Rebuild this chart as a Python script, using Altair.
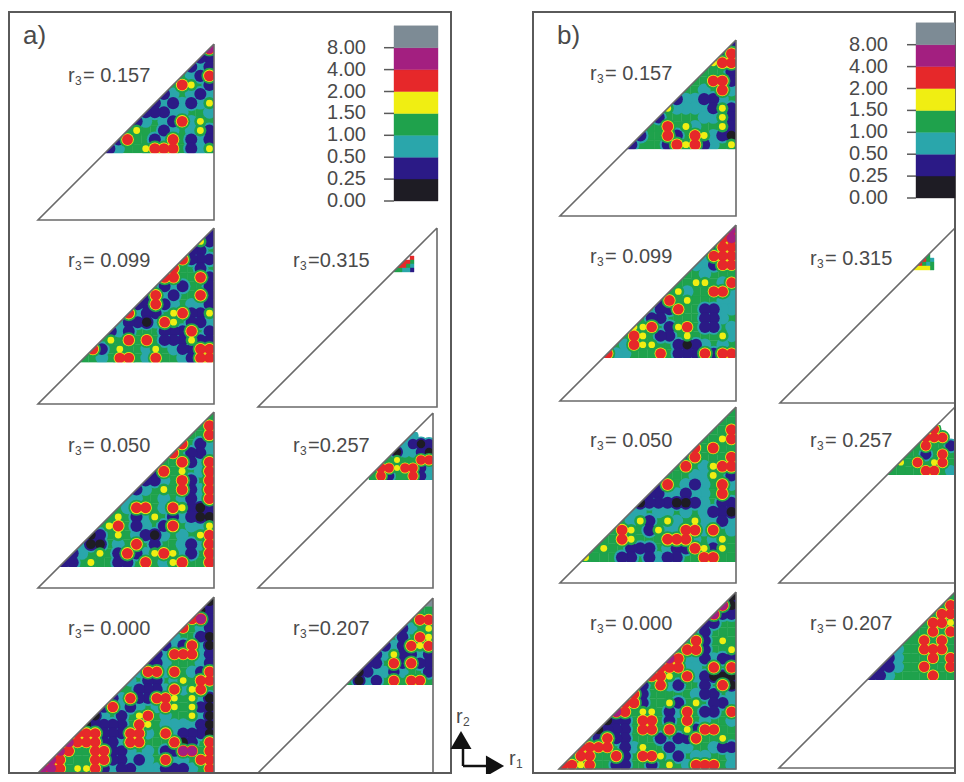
import altair as alt
import math

COLORS = ["#1e1c24", "#2b1a86", "#2aa6ab", "#1fa24c", "#f0ee12", "#e6282a", "#a31f80", "#7d8b95"]
TICKS = ["0.00", "0.25", "0.50", "1.00", "1.50", "2.00", "4.00", "8.00"]

A157 = ["6", "11", "121", "3215", "35431", "123212", "1212124", "11122332", "123215243", "3433123241",
        "15331253121", "123345553124"]
A099 = ["1", "41", "113", "5111", "53313", "553351", "3121331", "15213351", "115123221", "5211345114",
        "21102543112", "121333111531", "3435353111411", "51343324321155", "332355325332155"]
A050 = ["3", "35", "335", "5312", "53112", "335125", "1534325", "11235135", "123435125", "2233232125",
        "32553254101", "343124312100", "3453123153224", "01343210232345", "200323531332125",
        "1234315124542135", "11343311353245335"]
A000 = ["0", "01", "561", "5321", "23310", "121520", "1255521", "11233321", "255253215", "2311324355",
        "33111252453", "125115543420", "1521232543410", "02313453233420", "011113543222210",
        "5551115523521110", "65551125533350135", "653355112323116635", "6533355112123522355",
        "66534451211222111235"]
A315 = ["5", "553", "5532", "33221"]
A257 = ["2  ", "2101", "02210", "343355", "5545512", "35133512"]
A207 = ["7", "33", "355", "1234", "31354", "121545", "1241121", "11351511", "012212331", "3021353553"]

B157 = ["1", "15", "455", "3331", "33551", "332352", "1221123", "42222141", "133332241", "3353423341",
        "13351354210", "133315451234"]
B099 = ["6", "56", "155", "2555", "22155", "332333", "3344325", "34233552", "153433322", "3115331122",
        "31133331123", "445314531132", "3543113433342", "32544331012323", "522333531115155"]
B050 = ["3", "33", "335", "3345", "53533", "153335", "3532455", "33322431", "153212352", "1122122353",
        "01110012311", "223223232110", "3241342342212", "35431422552532", "335433355523243",
        "3433111321154143", "43331131211335533"]
B000 = ["0", "60", "611", "1133", "31333", "251343", "3551334", "65221211", "555223535", "5543521000",
        "13521331350", "513333321132", "5513341343112", "65344312531135", "011355313532332",
        "0111355353415533", "31511333131153343", "555531243312233211", "3553351355421322332",
        "55453311331343255532"]
B315 = ["3 ", "532", "5323", "44443"]
B257 = ["55  ", "3555 ", "335331", "3331353", "34353453", "333335532"]
B207 = ["3", "35", "355", "3554", "33535", "335353", "2335553", "12333535", "112335335", "1123333533"]

# panel: grid, cell right edge, cell top, cell size, apex x, apex y, side, label, label x, label y
PANELS = [
    (A157, 214, 44, 9.1, 214, 44, 176, "= 0.157", 68, 76),
    (A099, 214, 228, 8.97, 214, 228, 176, "= 0.099", 68, 261),
    (A050, 214, 412, 9.12, 214, 412, 176, "= 0.050", 68, 446),
    (A000, 214, 597, 8.8, 214, 597, 176, "= 0.000", 68, 629),
    (A315, 414, 256, 4, 437, 228, 179, "=0.315", 293, 261),
    (A257, 433, 432, 8, 433, 413, 175, "=0.257", 293, 446),
    (A207, 433, 598, 8.7, 433, 598, 175, "=0.207", 293, 629),
    (B157, 736, 40, 9.1, 736, 40, 176, "= 0.157", 590, 74),
    (B099, 736, 225, 8.87, 736, 225, 176, "= 0.099", 590, 257),
    (B050, 736, 407, 9.12, 736, 407, 176, "= 0.050", 590, 441),
    (B000, 736, 592, 8.87, 736, 592, 177, "= 0.000", 590, 624),
    (B315, 934, 254, 4, 955, 228, 175, "= 0.315", 810, 259),
    (B257, 955, 425, 8.33, 955, 407, 176, "= 0.257", 810, 441),
    (B207, 955, 592, 8.8, 955, 592, 176, "= 0.207", 810, 624),
]
FRAMES = [(9, 12, 451, 773), (533, 12, 955, 773)]
LEGENDS = [(394, 438, 201, 21.9, 384, 366), (916, 955, 198, 21.9, 907, 888)]

# How each cell is painted: (painting pass, colour level, diameter in cell widths)
RINGS = {
    2: [(0, 2, 1.6)],
    1: [(1, 2, 2.0), (2, 1, 1.5)],
    0: [(1, 2, 2.1), (2, 1, 1.7), (3, 0, 1.2)],
    4: [(4, 3, 1.5), (5, 4, 0.85)],
    5: [(4, 3, 2.0), (5, 4, 1.55), (6, 5, 1.35)],
    6: [(4, 3, 2.0), (5, 4, 1.55), (6, 5, 1.45), (7, 6, 1.25)],
}
MASK = 26  # width of the white band laid over the hypotenuse's outer side

cells, blobs, outline, mask, covers, labels = [], [], [], [], [], []
for p, (grid, right, top, c, ax, ay, side, lab, lx, ly) in enumerate(PANELS):
    smooth = c >= 8
    cut = top + len(grid) * c
    for i, row in enumerate(grid):
        for j, ch in enumerate(reversed(row)):
            if ch == " ":
                continue
            level = int(ch)
            cells.append(dict(x=right - (j + 1) * c, x2=right - j * c, y=top + i * c,
                              y2=top + (i + 1) * c, level=3 if smooth and level != 7 else level))
            if smooth:
                for n, ring, d in RINGS.get(level, []):
                    blobs.append(dict(n=n, x=right - (j + .5) * c, y=top + (i + .5) * c, level=ring,
                                      d=math.pi / 4 * (d * c) ** 2))
    if smooth:
        covers.append(dict(x=right, x2=right + 14, y=top - 12, y2=cut + 14))
        covers.append(dict(x=ax - side - 14, x2=right + 14, y=cut, y2=cut + 14))
        covers.append(dict(x=ax - side, x2=right + 14, y=top - 12, y2=top))
    for k, (x, y) in enumerate([(ax, ay), (ax - side, ay + side), (ax, ay + side), (ax, ay)]):
        outline.append(dict(p=p, k=k, x=x, y=y))
    off = MASK / 2 / math.sqrt(2)
    for k, (x, y) in enumerate([(ax - side - 2 * off, ay + side + 2 * off), (ax, ay)]):
        mask.append(dict(p=p, k=k, x=x - off, y=y - off))
    labels.append(dict(x=lx, y=ly, t="r", size=20))
    labels.append(dict(x=lx + 7, y=ly + 5, t="3", size=12))
    labels.append(dict(x=lx + 15, y=ly, t=lab, size=20))
blobs.sort(key=lambda b: b["n"])

legend_cells, legend_ticks, legend_labels = [], [], []
for x0, x1, y0, step, tx, lx in LEGENDS:
    for i, t in enumerate(TICKS):
        legend_cells.append(dict(x=x0, x2=x1, y=y0 - i * step, y2=y0 - (i + 1) * step, level=i))
        legend_ticks.append(dict(x=tx, x2=x0, y=y0 - i * step))
        legend_labels.append(dict(x=lx, y=y0 - i * step, t=t))

labels += [dict(x=23, y=36, t="a)", size=26), dict(x=557, y=36, t="b)", size=26),
           dict(x=456, y=717, t="r", size=20), dict(x=463, y=722, t="2", size=12),
           dict(x=509, y=759, t="r", size=20), dict(x=516, y=764, t="1", size=12)]

sx = alt.Scale(domain=[8, 956], range=[0, 948], nice=False, zero=False)
sy = alt.Scale(domain=[8, 774], range=[0, 766], nice=False, zero=False)
X = alt.X("x:Q", scale=sx, axis=None)
Y = alt.Y("y:Q", scale=sy, axis=None)
cs = alt.Scale(domain=list(range(8)), range=COLORS)
GRAY = "#5a5a5a"
TXT = "#4a4a4a"
FONT = "Liberation Sans"


def df(rows):
    return alt.Data(values=rows)


def cell_layer(rows):
    return alt.Chart(df(rows)).mark_rect(strokeWidth=0.4).encode(
        x=X, x2="x2:Q", y=Y, y2="y2:Q",
        color=alt.Color("level:O", scale=cs, legend=None),
        stroke=alt.Color("level:O", scale=cs, legend=None),
    )


layers = [
    cell_layer(cells),
    alt.Chart(df(blobs)).mark_circle(opacity=1).encode(
        x=X, y=Y, color=alt.Color("level:O", scale=cs, legend=None),
        size=alt.Size("d:Q", scale=None, legend=None)),
    alt.Chart(df(covers)).mark_rect(fill="white", opacity=1).encode(x=X, x2="x2:Q", y=Y, y2="y2:Q"),
    alt.Chart(df(mask)).mark_line(color="white", strokeWidth=MASK, strokeCap="butt").encode(
        x=X, y=Y, detail="p:N", order="k:Q"),
    alt.Chart(df(outline)).mark_line(color="#6a6a6a", strokeWidth=1.6).encode(
        x=X, y=Y, detail="p:N", order="k:Q"),
    alt.Chart(df([dict(x=f[0], x2=f[2], y=f[1], y2=f[3]) for f in FRAMES])).mark_rect(
        fillOpacity=0, stroke=GRAY, strokeWidth=2).encode(x=X, x2="x2:Q", y=Y, y2="y2:Q"),
    cell_layer(legend_cells),
    alt.Chart(df(legend_ticks)).mark_rule(color=GRAY, strokeWidth=1.5).encode(x=X, x2="x2:Q", y=Y),
    alt.Chart(df(legend_labels)).mark_text(align="right", baseline="middle", font=FONT, fontSize=20,
                                           color=TXT).encode(x=X, y=Y, text="t:N"),
    alt.Chart(df(labels)).mark_text(align="left", baseline="middle", font=FONT, color=TXT).encode(
        x=X, y=Y, text="t:N", size=alt.Size("size:Q", scale=None, legend=None)),
    alt.Chart(df([dict(x=463, y=745, x2=463, y2=766), dict(x=463, y=766, x2=490, y2=766)])).mark_rule(
        color="#111", strokeWidth=2.5).encode(x=X, y=Y, x2="x2:Q", y2="y2:Q"),
    alt.Chart(df([dict(x=461, y=740, s="triangle-up"), dict(x=495, y=766, s="triangle-right")])).mark_point(
        filled=True, size=440, color="#111", opacity=1).encode(
        x=X, y=Y, shape=alt.Shape("s:N", scale=None, legend=None)),
]

chart = alt.layer(*layers).properties(
    width=948, height=766, padding=0, autosize=alt.AutoSizeParams(type="none"),
    background="white",
).configure_view(stroke=None)

chart.save("out.html", embed_options={"renderer": "svg", "actions": False})
